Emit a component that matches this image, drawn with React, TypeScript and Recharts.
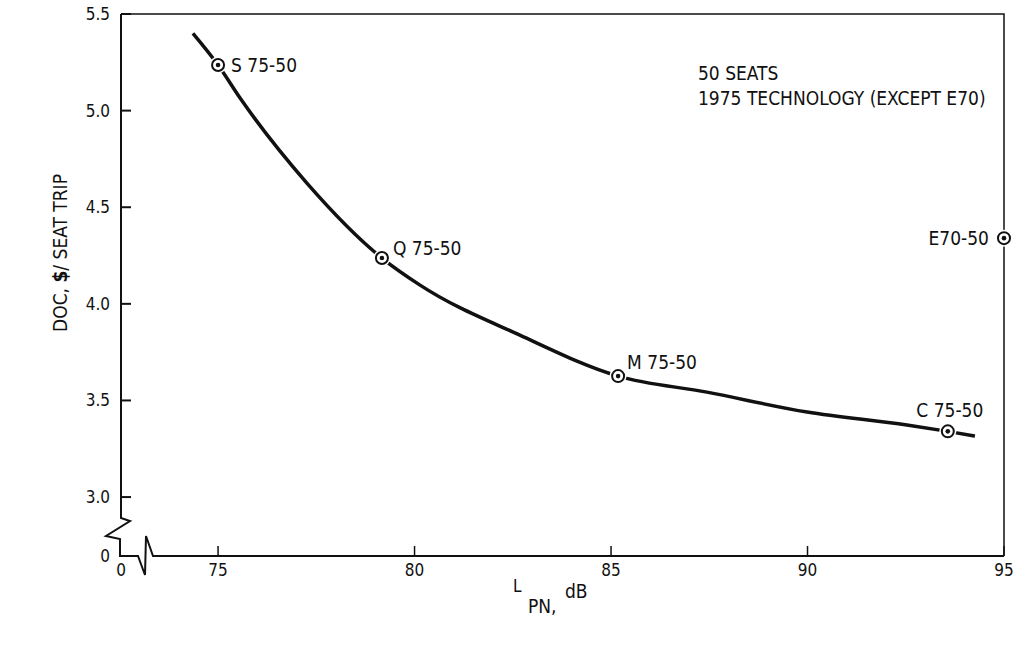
import React from 'react';
import { ComposedChart, Line, Scatter, XAxis, YAxis, Customized } from 'recharts';

// fitted curve, L_PN (dB) vs DOC ($/seat trip)
const curveLpn = [74.36, 75.0, 75.56, 77.26, 79.17, 80.14, 82.68, 85.18, 87.44, 89.99, 92.53, 93.57, 94.26];
const curveDoc = [5.4, 5.236, 5.065, 4.625, 4.237, 4.097, 3.838, 3.626, 3.543, 3.44, 3.373, 3.34, 3.316];

// design points
const pointNames = ['S 75-50', 'Q 75-50', 'M 75-50', 'C 75-50', 'E70-50'];
const pointLpn = [75.0, 79.17, 85.18, 93.57, 95.0];
const pointDoc = [5.236, 4.237, 3.626, 3.34, 4.34];

const xTicks = [75, 80, 85, 90, 95];
const yTicks = [3.0, 3.5, 4.0, 4.5, 5.0, 5.5];

// the axes are broken: "0" sits just before the first real tick
const X_ZERO_POS = 72.53;
const Y_ZERO_POS = 2.695;

const curveData = curveLpn.map((lpn, i) => ({ lpn, doc: curveDoc[i] }));
const pointData = pointNames.map((name, i) => ({ name, lpn: pointLpn[i], doc: pointDoc[i] }));

const W = 1017;
const H = 660;
const M = { top: 14, right: 13, left: 0, bottom: 0 };
const Y_AXIS_W = 121;
const X_AXIS_H = 104;
const PL = M.left + Y_AXIS_W;
const PR = W - M.right;
const PT = M.top;
const PB = H - M.bottom - X_AXIS_H;

const FONT = "'Liberation Sans Narrow', 'DejaVu Sans Condensed', 'DejaVu Sans', sans-serif";

const labelPlace: Record<string, { dx: number; dy: number; anchor: 'start' | 'middle' | 'end' }> = {
  'S 75-50': { dx: 13, dy: 0, anchor: 'start' },
  'Q 75-50': { dx: 11, dy: -10, anchor: 'start' },
  'M 75-50': { dx: 9, dy: -14, anchor: 'start' },
  'C 75-50': { dx: 2, dy: -21, anchor: 'middle' },
  'E70-50': { dx: -15, dy: 0, anchor: 'end' },
};

const YTick = (props: any) => {
  const { x, y, payload } = props;
  const isZero = payload.value === Y_ZERO_POS;
  return (
    <g>
      {!isZero && <line x1={x} y1={y} x2={x + 10} y2={y} stroke="#111" strokeWidth={2} />}
      <text x={x - 11} y={y} textAnchor="end" dominantBaseline="central" fontSize={17} fontFamily={FONT} fill="#111">
        {isZero ? '0' : payload.value.toFixed(1)}
      </text>
    </g>
  );
};

const XTick = (props: any) => {
  const { x, y, payload } = props;
  const isZero = payload.value === X_ZERO_POS;
  return (
    <g>
      {!isZero && <line x1={x} y1={y} x2={x} y2={y - 10} stroke="#111" strokeWidth={1.5} />}
      <text x={x} y={y + 14} textAnchor="middle" dominantBaseline="central" fontSize={17} fontFamily={FONT} fill="#111">
        {isZero ? '0' : payload.value}
      </text>
    </g>
  );
};

const PointShape = (props: any) => {
  const { cx, cy, payload } = props;
  const p = labelPlace[payload.name];
  return (
    <g>
      <circle cx={cx} cy={cy} r={8.5} fill="#fff" />
      <circle cx={cx} cy={cy} r={6} fill="#fff" stroke="#111" strokeWidth={2} />
      <circle cx={cx} cy={cy} r={2.3} fill="#111" />
      <text x={cx + p.dx} y={cy + p.dy} textAnchor={p.anchor} dominantBaseline="central" fontSize={19} fontFamily={FONT} fill="#111">
        {payload.name}
      </text>
    </g>
  );
};

const Frame = () => (
  <g fill="none" stroke="#111" strokeLinejoin="miter">
    <path d={`M${PL},${PT} L${PR},${PT} L${PR},${PB}`} strokeWidth={1.5} />
    <path
      d={`M${PL},${PT} L${PL},${PB - 38} L${PL + 9},${PB - 35} L${PL - 15},${PB - 20} L${PL - 1},${PB - 17} L${PL - 1},${PB} L${PL + 17},${PB} L${PL + 24},${PB + 19} L${PL + 25},${PB - 20} L${PL + 32},${PB} L${PR},${PB}`}
      strokeWidth={2}
    />
    <text x={698} y={73} dominantBaseline="central" fontSize={19} fontFamily={FONT} fill="#111" stroke="none">
      50 SEATS
    </text>
    <text x={698} y={98} dominantBaseline="central" fontSize={19} fontFamily={FONT} fill="#111" stroke="none">
      1975 TECHNOLOGY (EXCEPT E70)
    </text>
    <text
      x={60}
      y={253}
      transform="rotate(-90 60 253)"
      textAnchor="middle"
      dominantBaseline="central"
      fontSize={19}
      fontFamily={FONT}
      fill="#111"
      stroke="none"
    >
      DOC, <tspan fontWeight="bold">$</tspan>/ SEAT TRIP
    </text>
    <text x={513} y={592} fontSize={17} fontFamily={FONT} fill="#111" stroke="none">L</text>
    <text x={528} y={613} fontSize={19} fontFamily={FONT} fill="#111" stroke="none">PN,</text>
    <text x={565} y={598} fontSize={19} fontFamily={FONT} fill="#111" stroke="none">dB</text>
  </g>
);

export default function App() {
  return (
    <div style={{ position: 'absolute', left: 0, top: 0, background: '#fff' }}>
      <ComposedChart width={W} height={H} margin={M}>
        <XAxis
          type="number"
          dataKey="lpn"
          domain={[X_ZERO_POS, 95]}
          ticks={[X_ZERO_POS, ...xTicks]}
          height={X_AXIS_H}
          axisLine={false}
          tickLine={false}
          tickSize={0}
          tickMargin={0}
          tick={<XTick />}
          interval={0}
        />
        <YAxis
          type="number"
          dataKey="doc"
          domain={[Y_ZERO_POS, 5.5]}
          ticks={[Y_ZERO_POS, ...yTicks]}
          width={Y_AXIS_W}
          axisLine={false}
          tickLine={false}
          tickSize={0}
          tickMargin={0}
          tick={<YTick />}
          interval={0}
        />
        <Customized component={Frame} />
        <Line
          data={curveData}
          dataKey="doc"
          type="monotone"
          stroke="#111"
          strokeWidth={3.5}
          dot={false}
          activeDot={false}
          isAnimationActive={false}
        />
        <Scatter data={pointData} dataKey="doc" shape={<PointShape />} isAnimationActive={false} />
      </ComposedChart>
    </div>
  );
}
